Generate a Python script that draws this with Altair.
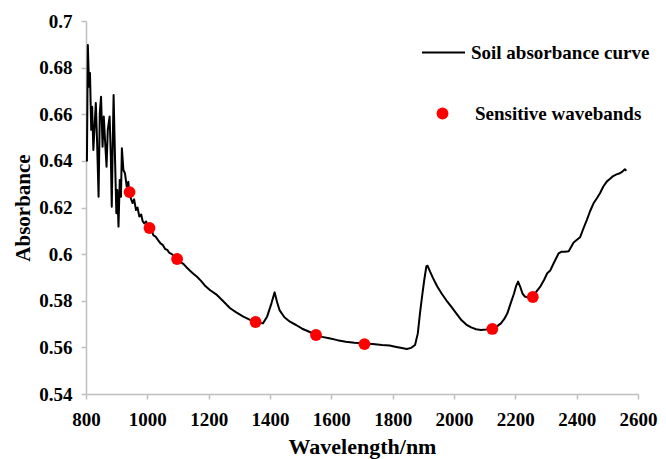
import altair as alt
import pandas as pd

# Soil absorbance curve (wavelength in nm, absorbance)
wavelength = [803, 806, 810, 813, 817, 820, 824, 828, 832, 836, 841, 845, 849, 854, 858, 862, 867, 871,
              877, 881, 884, 887, 890, 895, 899, 902, 906, 910, 914, 917, 922, 927, 933, 938, 941, 946,
              952, 957, 963, 968, 974, 980, 985, 990, 996, 1002, 1007, 1013, 1020, 1027, 1035, 1043,
              1050, 1058, 1065, 1072, 1080, 1090, 1100, 1110, 1120, 1130, 1140, 1150, 1162, 1175, 1190,
              1205, 1227, 1250, 1270, 1290, 1313, 1335, 1353, 1365, 1377, 1390, 1405, 1415, 1423, 1431,
              1447, 1465, 1485, 1505, 1528, 1553, 1570, 1593, 1620, 1647, 1675, 1709, 1735, 1765, 1790,
              1808, 1830, 1846, 1860, 1873, 1882, 1889, 1896, 1903, 1910, 1914, 1922, 1932, 1945, 1959,
              1975, 1991, 2008, 2024, 2040, 2056, 2072, 2088, 2105, 2124, 2140, 2153, 2164, 2174, 2185,
              2196, 2203, 2209, 2216, 2223, 2231, 2239, 2248, 2256, 2268, 2282, 2294, 2304, 2314, 2325,
              2341, 2350, 2362, 2374, 2390, 2411, 2422, 2433, 2444, 2455, 2466, 2476, 2487, 2498, 2508,
              2519, 2530, 2541, 2550, 2557, 2562]
absorbance = [0.6397, 0.6897, 0.6718, 0.6777, 0.6533, 0.6632, 0.6447, 0.6547, 0.6648, 0.6490, 0.6246,
              0.6605, 0.6675, 0.6461, 0.6590, 0.6490, 0.6375, 0.6533, 0.6590, 0.6418, 0.6203, 0.6461,
              0.6683, 0.6390, 0.6175, 0.6275, 0.6118, 0.6318, 0.6246, 0.6454, 0.6361, 0.6347, 0.6289,
              0.6310, 0.6262, 0.6240, 0.6219, 0.6235, 0.6189, 0.6200, 0.6161, 0.6170, 0.6140, 0.6132,
              0.6140, 0.6118, 0.6116, 0.6105, 0.6080, 0.6075, 0.6060, 0.6046, 0.6040, 0.6022, 0.6018,
              0.6005, 0.6000, 0.5988, 0.5980, 0.5965, 0.5955, 0.5940, 0.5928, 0.5916, 0.5903, 0.5885,
              0.5862, 0.5845, 0.5825, 0.5795, 0.5768, 0.5750, 0.5732, 0.5718, 0.5709, 0.5705, 0.5703,
              0.5730, 0.5790, 0.5836, 0.5795, 0.5760, 0.5729, 0.5710, 0.5696, 0.5680, 0.5667, 0.5652,
              0.5645, 0.5639, 0.5631, 0.5624, 0.5620, 0.5617, 0.5614, 0.5610, 0.5608, 0.5603, 0.5597,
              0.5593, 0.5598, 0.5610, 0.5660, 0.5746, 0.5820, 0.5889, 0.5948, 0.5950, 0.5925, 0.5896,
              0.5862, 0.5832, 0.5802, 0.5775, 0.5745, 0.5717, 0.5698, 0.5686, 0.5678, 0.5675, 0.5677,
              0.5680, 0.5690, 0.5703, 0.5722, 0.5746, 0.5790, 0.5832, 0.5865, 0.5882, 0.5860, 0.5832,
              0.5818, 0.5815, 0.5813, 0.5817, 0.5838, 0.5862, 0.5890, 0.5918, 0.5930, 0.5961, 0.6003,
              0.6010, 0.6010, 0.6012, 0.6050, 0.6072, 0.6110, 0.6146, 0.6185, 0.6218, 0.6240, 0.6261,
              0.6290, 0.6311, 0.6322, 0.6335, 0.6342, 0.6347, 0.6355, 0.6364, 0.6358]

# Sensitive wavebands
band_wavelength = [942, 1007, 1097, 1353, 1550, 1708, 2125, 2257]
band_absorbance = [0.6266, 0.6112, 0.5979, 0.5709, 0.5653, 0.5614, 0.5679, 0.5816]

x_ticks = [800, 1000, 1200, 1400, 1600, 1800, 2000, 2200, 2400, 2600]
y_ticks = [0.54, 0.56, 0.58, 0.60, 0.62, 0.64, 0.66, 0.68, 0.70]

curve_name = "Soil absorbance curve"
band_name = "Sensitive wavebands"

curve = pd.DataFrame({"wl": wavelength, "ab": absorbance, "series": curve_name})
bands = pd.DataFrame({"wl": band_wavelength, "ab": band_absorbance, "series": band_name})

FONT = "Liberation Serif"
GRAY = "#bfbfbf"

x_enc = alt.X("wl:Q", scale=alt.Scale(domain=[800, 2600], nice=False),
              axis=alt.Axis(values=x_ticks, format="d", title="Wavelength/nm", labelFlush=False,
                            labelPadding=11, titleY=59, titleBaseline="alphabetic"))
y_enc = alt.Y("ab:Q", scale=alt.Scale(domain=[0.54, 0.70], nice=False, zero=False),
              axis=alt.Axis(values=y_ticks, format=".2~f", title="Absorbance", labelFlush=False,
                            labelPadding=9, titlePadding=5, titleFontSize=21))

line = alt.Chart(curve).mark_line(strokeWidth=2, strokeJoin="round").encode(
    x=x_enc, y=y_enc,
    stroke=alt.Stroke("series:N", scale=alt.Scale(domain=[curve_name], range=["#000000"]),
                      legend=alt.Legend(title=None, orient="none", legendX=335, legendY=9,
                                        symbolType="stroke", symbolSize=1849,
                                        symbolStrokeWidth=2, labelOffset=5, padding=0,
                                        labelLimit=400)),
)

points = alt.Chart(bands).mark_circle(size=140, opacity=1).encode(
    x="wl:Q", y="ab:Q",
    fill=alt.Fill("series:N", scale=alt.Scale(domain=[band_name], range=["#ff0000"]),
                  legend=alt.Legend(title=None, orient="none", legendX=347, legendY=83,
                                    symbolType="circle", symbolSize=140,
                                    symbolStrokeWidth=0, labelOffset=23, padding=0,
                                    labelLimit=400)),
)

chart = (line + points).properties(
    width=552, height=373,
    autosize=alt.AutoSizeParams(type="none"),
    padding={"left": 78, "top": 13, "right": 20, "bottom": 65},
).configure_view(stroke=None).configure_axis(
    grid=False, domainColor=GRAY, domainWidth=1.5, tickColor=GRAY, tickWidth=1.5, tickSize=5,
    labelFont=FONT, labelFontSize=19, labelFontWeight="bold", labelColor="#000000",
    titleFont=FONT, titleFontSize=22, titleFontWeight="bold", titleColor="#000000",
).configure_legend(
    labelFont=FONT, labelFontSize=19, labelFontWeight="bold", labelColor="#000000",
)

chart.save("out.html", embed_options={"renderer": "svg", "actions": False})
